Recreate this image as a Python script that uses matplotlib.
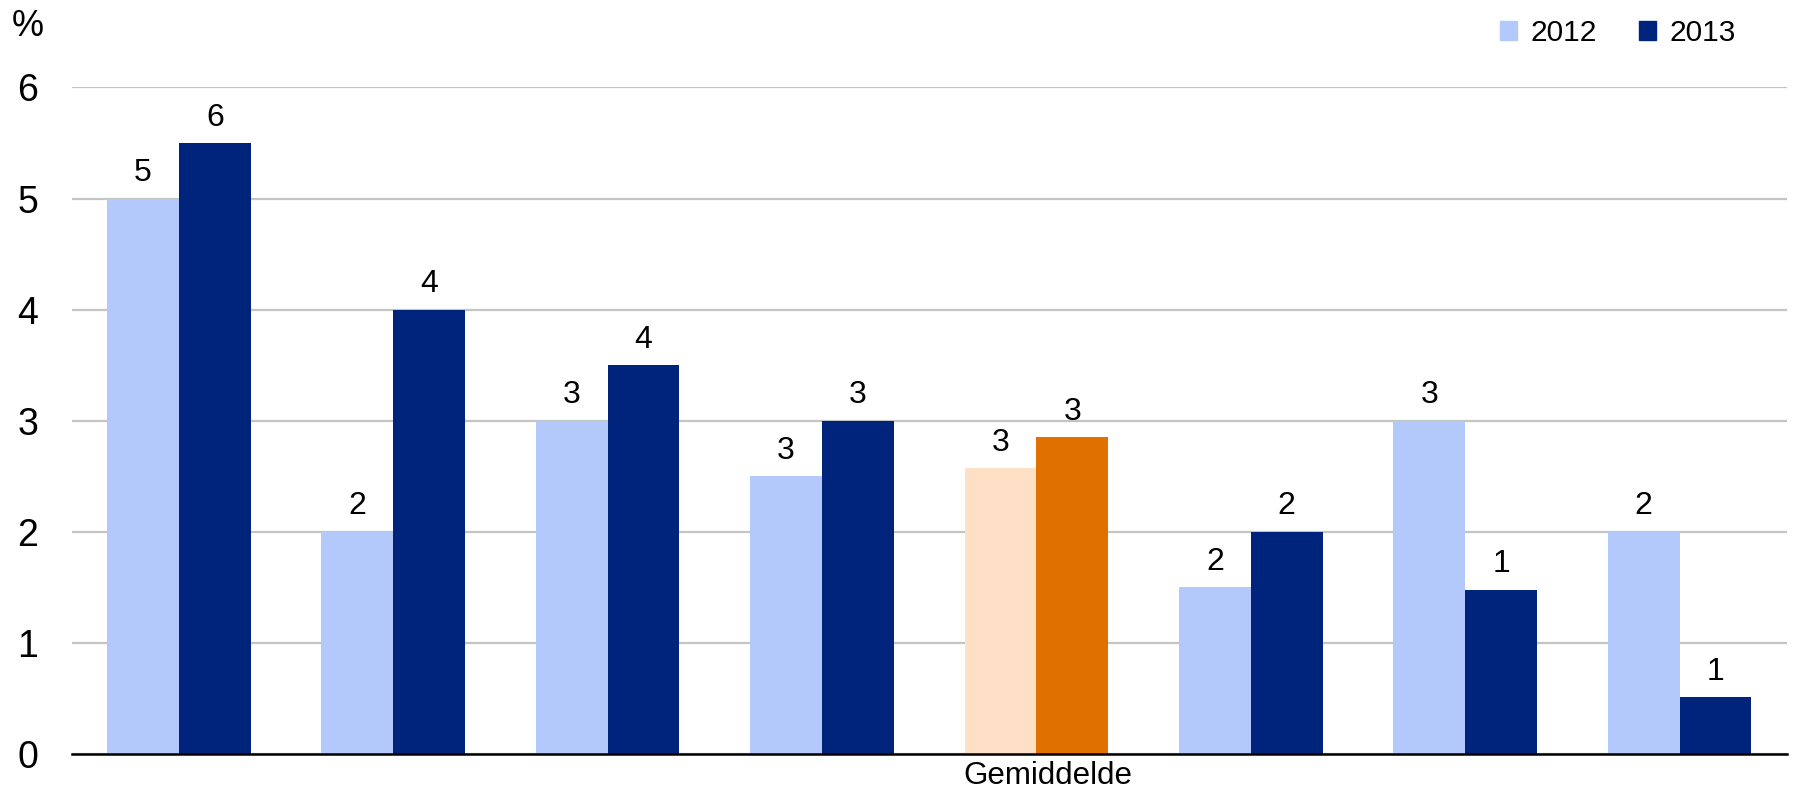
import numpy as np
import matplotlib.pyplot as plt
from matplotlib.patches import Patch
from matplotlib.transforms import ScaledTranslation

plt.rcParams['font.family'] = ['Liberation Sans', 'DejaVu Sans']

# data
groups = ['', '', '', '', 'Gemiddelde', '', '', '']
v2012 = [5.0, 2.0, 3.0, 2.5, 2.57, 1.5, 3.0, 2.0]
v2013 = [5.5, 4.0, 3.5, 3.0, 2.85, 2.0, 1.48, 0.51]
lab2012 = ['5', '2', '3', '3', '3', '2', '3', '2']
lab2013 = ['6', '4', '4', '3', '3', '2', '1', '1']
avg_idx = 4

light_blue = '#b3c9fc'
navy = '#00247b'
peach = '#fde0c5'
orange = '#e07000'

c2012 = [peach if i == avg_idx else light_blue for i in range(len(v2012))]
c2013 = [orange if i == avg_idx else navy for i in range(len(v2013))]

fig = plt.figure(figsize=(17.93, 7.99), dpi=100)
ax = fig.add_axes([0.0400, 0.0563, 0.9565, 0.8343])

x = np.arange(len(groups))
w = 0.335
b1 = ax.bar(x - w / 2, v2012, w, color=c2012, label='2012', zorder=3)
b2 = ax.bar(x + w / 2, v2013, w, color=c2013, label='2013', zorder=3)

ax.bar_label(b1, labels=lab2012, padding=7.5, fontsize=23, clip_on=False)
ax.bar_label(b2, labels=lab2013, padding=7.5, fontsize=23, clip_on=False)

ax.set_xlim(-0.5, len(groups) - 0.5)
ax.set_ylim(0, 6)
ax.set_yticks(range(7))
ax.tick_params(axis='y', length=0, pad=24, labelsize=27)
ax.set_xticks(x)
ax.set_xticklabels(groups, fontsize=22.5)
ax.tick_params(axis='x', length=0, pad=5)
for lbl in ax.get_xticklabels():
    lbl.set_transform(lbl.get_transform() + ScaledTranslation(11 / 100, 0, fig.dpi_scale_trans))

ax.grid(axis='y', color='#c4c4c4', linewidth=1.6, zorder=0)
for s in ['top', 'right', 'left']:
    ax.spines[s].set_visible(False)
ax.spines['bottom'].set_linewidth(1.8)
ax.spines['bottom'].set_zorder(4)

fig.text(12 / 1793, 1 - 9 / 799, '%', fontsize=26, va='top', ha='left')

# legend squares use the non-average colours
handles = [Patch(color=light_blue), Patch(color=navy)]
fig.legend(handles, ['2012', '2013'], loc='upper left', bbox_to_anchor=(1500 / 1793, 1 - 19 / 799),
           ncol=2, frameon=False, fontsize=21.5, handlelength=0.58, handleheight=0.58,
           handletextpad=0.45, columnspacing=1.4, borderpad=0, borderaxespad=0)

fig.savefig('out.png', dpi=100)
